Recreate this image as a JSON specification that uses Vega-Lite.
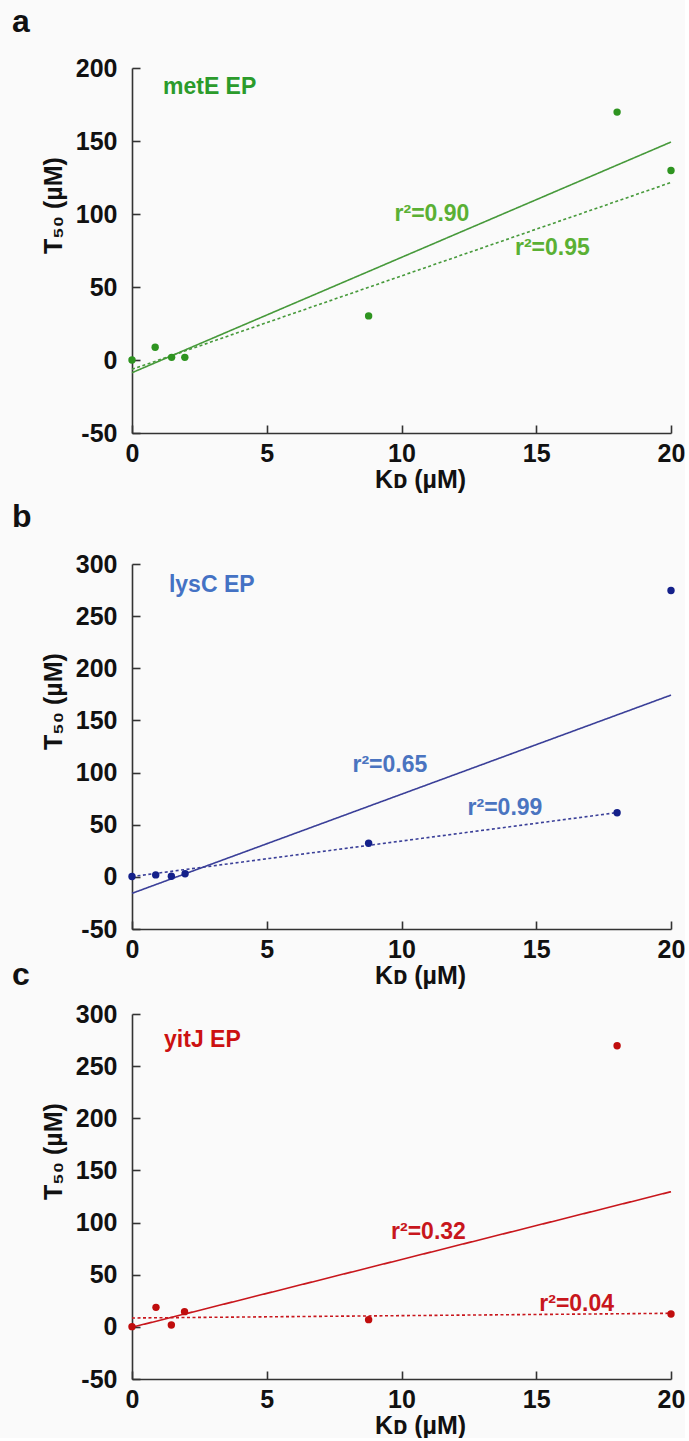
{
  "$schema": "https://vega.github.io/schema/vega-lite/v6.json",
  "background": "#fafafa",
  "padding": {"left": 12, "top": 6, "right": 0, "bottom": 0},
  "bounds": "flush",
  "spacing": 40,
  "config": {
    "view": {"stroke": null},
    "font": "Liberation Sans",
    "axis": {
      "grid": false,
      "domainColor": "#333333",
      "domainWidth": 1.6,
      "tickColor": "#333333",
      "tickWidth": 1.6,
      "tickSize": -8,
      "labelFont": "Liberation Sans",
      "labelFontSize": 25,
      "labelFontWeight": "bold",
      "labelColor": "#111111",
      "labelOverlap": false,
      "labelFlush": false,
      "titleFont": "Liberation Sans",
      "titleFontSize": 25,
      "titleFontWeight": "bold",
      "titleColor": "#111111"
    },
    "axisX": {"labelPadding": 16, "titlePadding": 1, "titleX": 288},
    "axisY": {"labelPadding": 23, "titlePadding": 9, "titleY": 137, "labelExpr": "datum.value < 0 ? '-' + abs(datum.value) : datum.label"}
  },
  "datasets": {
    "pts": [
      {"panel": "a", "kd": 0, "t50": 0},
      {"panel": "a", "kd": 0.86, "t50": 8.7},
      {"panel": "a", "kd": 1.47, "t50": 1.8},
      {"panel": "a", "kd": 1.96, "t50": 1.8},
      {"panel": "a", "kd": 8.78, "t50": 30.2},
      {"panel": "a", "kd": 18.0, "t50": 169.8},
      {"panel": "a", "kd": 20.0, "t50": 129.8},
      {"panel": "b", "kd": 0, "t50": 0.3},
      {"panel": "b", "kd": 0.88, "t50": 1.9},
      {"panel": "b", "kd": 1.46, "t50": 0.6},
      {"panel": "b", "kd": 1.97, "t50": 2.9},
      {"panel": "b", "kd": 8.78, "t50": 32.3},
      {"panel": "b", "kd": 18.0, "t50": 61.5},
      {"panel": "b", "kd": 20.0, "t50": 274.6},
      {"panel": "c", "kd": 0, "t50": 0.2},
      {"panel": "c", "kd": 0.89, "t50": 18.7},
      {"panel": "c", "kd": 1.46, "t50": 1.8},
      {"panel": "c", "kd": 1.95, "t50": 14.6},
      {"panel": "c", "kd": 8.78, "t50": 6.9},
      {"panel": "c", "kd": 18.0, "t50": 269.6},
      {"panel": "c", "kd": 20.0, "t50": 12.3}
    ],
    "lines": [
      {"panel": "a", "fit": "all", "kd": 0, "t50": -8.7},
      {"panel": "a", "fit": "all", "kd": 20, "t50": 149.3},
      {"panel": "a", "fit": "sub", "kd": 0, "t50": -6.4},
      {"panel": "a", "fit": "sub", "kd": 20, "t50": 121.6},
      {"panel": "b", "fit": "all", "kd": 0, "t50": -15.8},
      {"panel": "b", "fit": "all", "kd": 20, "t50": 174.3},
      {"panel": "b", "fit": "sub", "kd": 0, "t50": 0.3},
      {"panel": "b", "fit": "sub", "kd": 18, "t50": 61.6},
      {"panel": "c", "fit": "all", "kd": 0, "t50": -0.4},
      {"panel": "c", "fit": "all", "kd": 20, "t50": 129.6},
      {"panel": "c", "fit": "sub", "kd": 0, "t50": 8.5},
      {"panel": "c", "fit": "sub", "kd": 20, "t50": 13.0}
    ],
    "labels": [
      {"panel": "a", "kind": "name", "label": "metE EP", "kd": 1.15, "t50": 187},
      {"panel": "a", "kind": "r2", "label": "r²=0.90", "kd": 11.13, "t50": 100},
      {"panel": "a", "kind": "r2", "label": "r²=0.95", "kd": 15.6, "t50": 76.7},
      {"panel": "b", "kind": "name", "label": "lysC EP", "kd": 1.37, "t50": 280},
      {"panel": "b", "kind": "r2", "label": "r²=0.65", "kd": 9.57, "t50": 107},
      {"panel": "b", "kind": "r2", "label": "r²=0.99", "kd": 13.84, "t50": 65.8},
      {"panel": "c", "kind": "name", "label": "yitJ EP", "kd": 1.19, "t50": 275},
      {"panel": "c", "kind": "r2", "label": "r²=0.32", "kd": 11.0, "t50": 90.6},
      {"panel": "c", "kind": "r2", "label": "r²=0.04", "kd": 16.5, "t50": 22}
    ]
  },
  "vconcat": [
    {
      "width": 539,
      "height": 365,
      "title": {"text": "a", "anchor": "start", "frame": "group", "dx": -120, "offset": 17, "fontSize": 32, "fontWeight": "bold", "font": "Liberation Sans", "color": "#111111"},
      "encoding": {
        "x": {"field": "kd", "type": "quantitative", "scale": {"domain": [0, 20], "nice": false}, "axis": {"values": [0, 5, 10, 15, 20], "title": "Kᴅ (µM)"}},
        "y": {"field": "t50", "type": "quantitative", "scale": {"domain": [-50, 200], "nice": false, "zero": false}, "axis": {"values": [-50, 0, 50, 100, 150, 200], "title": "T₅₀ (µM)"}}
      },
      "layer": [
        {
          "data": {"name": "lines"},
          "transform": [{"filter": "datum.panel === 'a'"}],
          "mark": {"type": "line", "color": "#46993a", "strokeWidth": 1.6},
          "encoding": {"strokeDash": {"field": "fit", "type": "nominal", "scale": {"domain": ["all", "sub"], "range": [[1, 0], [3, 2.5]]}, "legend": null}}
        },
        {
          "data": {"name": "pts"},
          "transform": [{"filter": "datum.panel === 'a'"}],
          "mark": {"type": "circle", "color": "#2e9420", "size": 55, "opacity": 1}
        },
        {
          "data": {"name": "labels"},
          "transform": [{"filter": "datum.panel === 'a' && datum.kind === 'name'"}],
          "mark": {"type": "text", "align": "left", "baseline": "middle", "fontSize": 23, "fontWeight": "bold", "font": "Liberation Sans", "color": "#2b9b2b"},
          "encoding": {"text": {"field": "label"}}
        },
        {
          "data": {"name": "labels"},
          "transform": [{"filter": "datum.panel === 'a' && datum.kind === 'r2'"}],
          "mark": {"type": "text", "align": "center", "baseline": "middle", "fontSize": 23, "fontWeight": "bold", "font": "Liberation Sans", "color": "#5ab034"},
          "encoding": {"text": {"field": "label"}}
        }
      ]
    },
    {
      "width": 539,
      "height": 51,
      "data": {"values": []},
      "mark": "text",
      "encoding": {}
    },
    {
      "width": 539,
      "height": 365,
      "title": {"text": "b", "anchor": "start", "frame": "group", "dx": -120, "offset": 18, "fontSize": 32, "fontWeight": "bold", "font": "Liberation Sans", "color": "#111111"},
      "encoding": {
        "x": {"field": "kd", "type": "quantitative", "scale": {"domain": [0, 20], "nice": false}, "axis": {"values": [0, 5, 10, 15, 20], "title": "Kᴅ (µM)"}},
        "y": {"field": "t50", "type": "quantitative", "scale": {"domain": [-50, 300], "nice": false, "zero": false}, "axis": {"values": [-50, 0, 50, 100, 150, 200, 250, 300], "title": "T₅₀ (µM)"}}
      },
      "layer": [
        {
          "data": {"name": "lines"},
          "transform": [{"filter": "datum.panel === 'b'"}],
          "mark": {"type": "line", "color": "#3a3f98", "strokeWidth": 1.6},
          "encoding": {"strokeDash": {"field": "fit", "type": "nominal", "scale": {"domain": ["all", "sub"], "range": [[1, 0], [3, 2.5]]}, "legend": null}}
        },
        {
          "data": {"name": "pts"},
          "transform": [{"filter": "datum.panel === 'b'"}],
          "mark": {"type": "circle", "color": "#14208a", "size": 55, "opacity": 1}
        },
        {
          "data": {"name": "labels"},
          "transform": [{"filter": "datum.panel === 'b' && datum.kind === 'name'"}],
          "mark": {"type": "text", "align": "left", "baseline": "middle", "fontSize": 23, "fontWeight": "bold", "font": "Liberation Sans", "color": "#4472c4"},
          "encoding": {"text": {"field": "label"}}
        },
        {
          "data": {"name": "labels"},
          "transform": [{"filter": "datum.panel === 'b' && datum.kind === 'r2'"}],
          "mark": {"type": "text", "align": "center", "baseline": "middle", "fontSize": 23, "fontWeight": "bold", "font": "Liberation Sans", "color": "#4a74c0"},
          "encoding": {"text": {"field": "label"}}
        }
      ]
    },
    {
      "width": 539,
      "height": 5,
      "data": {"values": []},
      "mark": "text",
      "encoding": {}
    },
    {
      "width": 539,
      "height": 365,
      "title": {"text": "c", "anchor": "start", "frame": "group", "dx": -120, "offset": 10, "fontSize": 32, "fontWeight": "bold", "font": "Liberation Sans", "color": "#111111"},
      "encoding": {
        "x": {"field": "kd", "type": "quantitative", "scale": {"domain": [0, 20], "nice": false}, "axis": {"values": [0, 5, 10, 15, 20], "title": "Kᴅ (µM)"}},
        "y": {"field": "t50", "type": "quantitative", "scale": {"domain": [-50, 300], "nice": false, "zero": false}, "axis": {"values": [-50, 0, 50, 100, 150, 200, 250, 300], "title": "T₅₀ (µM)"}}
      },
      "layer": [
        {
          "data": {"name": "lines"},
          "transform": [{"filter": "datum.panel === 'c'"}],
          "mark": {"type": "line", "color": "#c8161c", "strokeWidth": 1.6},
          "encoding": {"strokeDash": {"field": "fit", "type": "nominal", "scale": {"domain": ["all", "sub"], "range": [[1, 0], [3, 2.5]]}, "legend": null}}
        },
        {
          "data": {"name": "pts"},
          "transform": [{"filter": "datum.panel === 'c'"}],
          "mark": {"type": "circle", "color": "#c00d0d", "size": 55, "opacity": 1}
        },
        {
          "data": {"name": "labels"},
          "transform": [{"filter": "datum.panel === 'c' && datum.kind === 'name'"}],
          "mark": {"type": "text", "align": "left", "baseline": "middle", "fontSize": 23, "fontWeight": "bold", "font": "Liberation Sans", "color": "#cc1111"},
          "encoding": {"text": {"field": "label"}}
        },
        {
          "data": {"name": "labels"},
          "transform": [{"filter": "datum.panel === 'c' && datum.kind === 'r2'"}],
          "mark": {"type": "text", "align": "center", "baseline": "middle", "fontSize": 23, "fontWeight": "bold", "font": "Liberation Sans", "color": "#c8161c"},
          "encoding": {"text": {"field": "label"}}
        }
      ]
    }
  ]
}
